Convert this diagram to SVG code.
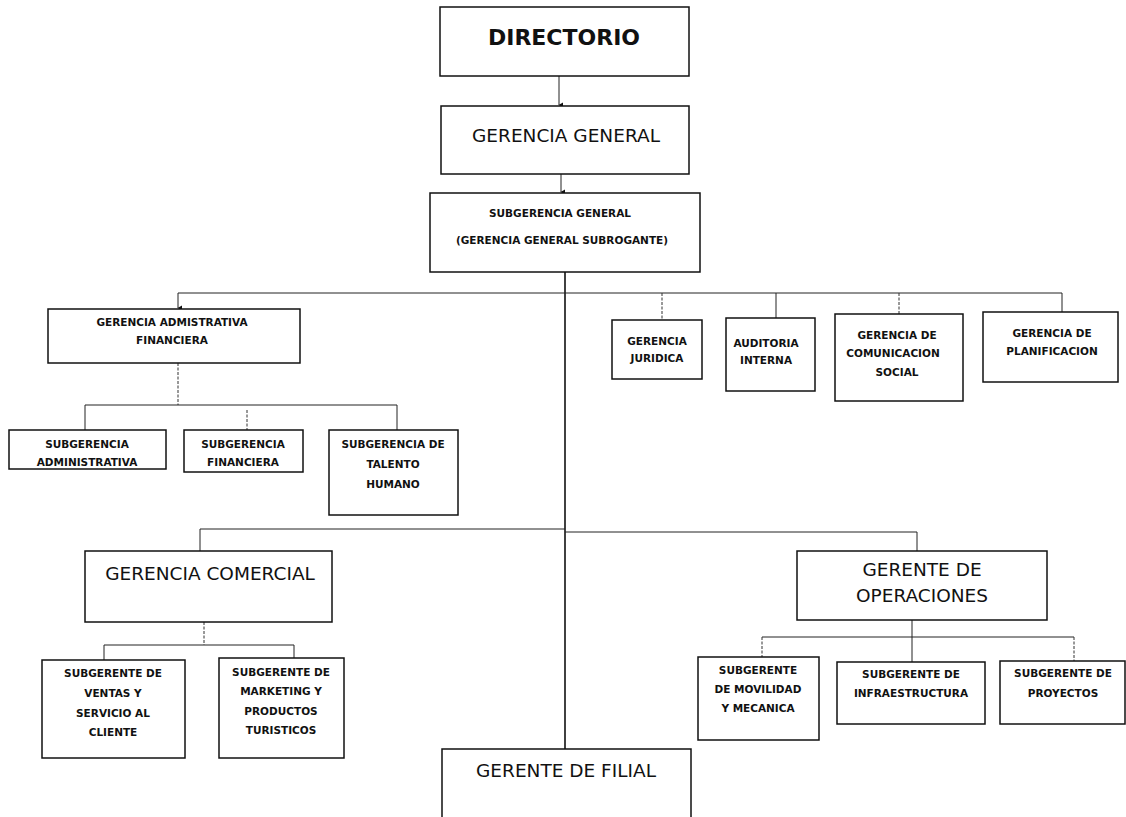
<svg xmlns="http://www.w3.org/2000/svg" width="1126" height="817" viewBox="0 0 1126 817">
<style>
.bg{fill:#fff}
.box{fill:#fff;stroke:#111;stroke-width:1.5}
.ln{fill:none;stroke:#222;stroke-width:1}
.lnd{fill:none;stroke:#333;stroke-width:1;stroke-dasharray:3 1.5}
.main{fill:none;stroke:#111;stroke-width:1.6}
.s{font-family:"DejaVu Sans",sans-serif;font-weight:bold;font-size:10.5px;text-anchor:middle;fill:#111}
.m{font-family:"DejaVu Sans",sans-serif;font-size:18.5px;text-anchor:middle;fill:#111}
.b{font-family:"DejaVu Sans",sans-serif;font-weight:bold;font-size:22px;text-anchor:middle;fill:#111}
</style>
<defs>
<marker id="ar" markerWidth="6" markerHeight="6" refX="3" refY="5" orient="auto-start-reverse" markerUnits="userSpaceOnUse">
<path d="M0.5,1 L3,5.5 L5.5,1 Z" fill="#111"/>
</marker>
</defs>
<rect class="bg" x="0" y="0" width="1126" height="817"/>

<g id="connectors">
<line class="ln" x1="559" y1="76" x2="559" y2="105" marker-end="url(#ar)"/>
<line class="ln" x1="561" y1="174" x2="561" y2="192" marker-end="url(#ar)"/>
<line class="main" x1="565" y1="272" x2="565" y2="749"/>
<line class="ln" x1="178" y1="293" x2="1062" y2="293"/>
<line class="ln" x1="178" y1="293" x2="178" y2="308" marker-end="url(#ar)"/>
<line class="lnd" x1="178" y1="363" x2="178" y2="405"/>
<line class="ln" x1="85" y1="405" x2="397" y2="405"/>
<line class="ln" x1="85" y1="405" x2="85" y2="430"/>
<line class="lnd" x1="247" y1="410" x2="247" y2="430"/>
<line class="ln" x1="397" y1="405" x2="397" y2="430"/>
<line class="lnd" x1="662" y1="293" x2="662" y2="320"/>
<line class="ln" x1="776" y1="293" x2="776" y2="318"/>
<line class="lnd" x1="899" y1="293" x2="899" y2="314"/>
<line class="ln" x1="1062" y1="293" x2="1062" y2="312"/>
<line class="ln" x1="200" y1="529" x2="565" y2="529"/>
<line class="ln" x1="200" y1="529" x2="200" y2="551"/>
<line class="lnd" x1="204" y1="622" x2="204" y2="645"/>
<line class="ln" x1="104" y1="645" x2="294" y2="645"/>
<line class="ln" x1="104" y1="645" x2="104" y2="660"/>
<line class="ln" x1="294" y1="645" x2="294" y2="658"/>
<line class="ln" x1="565" y1="532" x2="917" y2="532"/>
<line class="ln" x1="917" y1="532" x2="917" y2="551"/>
<line class="ln" x1="912" y1="620" x2="912" y2="662"/>
<line class="ln" x1="762" y1="637" x2="1074" y2="637"/>
<line class="lnd" x1="762" y1="637" x2="762" y2="657"/>
<line class="lnd" x1="1074" y1="637" x2="1074" y2="661"/>
</g>

<g id="directorio">
<rect class="box" x="440" y="7" width="249" height="69"/>
<text class="b" x="564" y="45">DIRECTORIO</text>
</g>
<g id="gerencia-general">
<rect class="box" x="441" y="106" width="248" height="68"/>
<text class="m" x="566" y="142" font-size="20">GERENCIA GENERAL</text>
</g>
<g id="subgerencia-general">
<rect class="box" x="430" y="193" width="270" height="79"/>
<text class="s" x="560" y="217">SUBGERENCIA GENERAL</text>
<text class="s" x="562" y="244" font-size="11.5">(GERENCIA GENERAL SUBROGANTE)</text>
</g>
<g id="gerencia-adm-fin">
<rect class="box" x="48" y="309" width="252" height="54"/>
<text class="s" x="172" y="326">GERENCIA ADMISTRATIVA</text>
<text class="s" x="172" y="344">FINANCIERA</text>
</g>
<g id="sub-administrativa">
<rect class="box" x="9" y="430" width="157" height="39"/>
<text class="s" x="87" y="448">SUBGERENCIA</text>
<text class="s" x="87" y="466">ADMINISTRATIVA</text>
</g>
<g id="sub-financiera">
<rect class="box" x="184" y="430" width="119" height="42"/>
<text class="s" x="243" y="448">SUBGERENCIA</text>
<text class="s" x="243" y="466">FINANCIERA</text>
</g>
<g id="sub-talento">
<rect class="box" x="329" y="430" width="129" height="85"/>
<text class="s" x="393" y="448">SUBGERENCIA DE</text>
<text class="s" x="393" y="468">TALENTO</text>
<text class="s" x="393" y="488">HUMANO</text>
</g>
<g id="gerencia-juridica">
<rect class="box" x="612" y="320" width="90" height="59"/>
<text class="s" x="657" y="345">GERENCIA</text>
<text class="s" x="657" y="362">JURIDICA</text>
</g>
<g id="auditoria-interna">
<rect class="box" x="726" y="318" width="89" height="73"/>
<text class="s" x="766" y="347">AUDITORIA</text>
<text class="s" x="766" y="364">INTERNA</text>
</g>
<g id="gerencia-comunicacion">
<rect class="box" x="835" y="314" width="128" height="87"/>
<text class="s" x="897" y="339">GERENCIA DE</text>
<text class="s" x="893" y="357">COMUNICACION</text>
<text class="s" x="897" y="376">SOCIAL</text>
</g>
<g id="gerencia-planificacion">
<rect class="box" x="983" y="312" width="135" height="70"/>
<text class="s" x="1052" y="337">GERENCIA DE</text>
<text class="s" x="1052" y="355">PLANIFICACION</text>
</g>
<g id="gerencia-comercial">
<rect class="box" x="85" y="551" width="247" height="71"/>
<text class="m" x="210" y="580">GERENCIA COMERCIAL</text>
</g>
<g id="sub-ventas">
<rect class="box" x="42" y="660" width="143" height="98"/>
<text class="s" x="113" y="677">SUBGERENTE DE</text>
<text class="s" x="113" y="697">VENTAS Y</text>
<text class="s" x="113" y="717">SERVICIO AL</text>
<text class="s" x="113" y="736">CLIENTE</text>
</g>
<g id="sub-marketing">
<rect class="box" x="219" y="658" width="125" height="100"/>
<text class="s" x="281" y="676">SUBGERENTE DE</text>
<text class="s" x="281" y="695">MARKETING Y</text>
<text class="s" x="281" y="715">PRODUCTOS</text>
<text class="s" x="281" y="734">TURISTICOS</text>
</g>
<g id="gerente-operaciones">
<rect class="box" x="797" y="551" width="250" height="69"/>
<text class="m" x="922" y="576">GERENTE DE</text>
<text class="m" x="922" y="602">OPERACIONES</text>
</g>
<g id="sub-movilidad">
<rect class="box" x="698" y="657" width="121" height="83"/>
<text class="s" x="758" y="674">SUBGERENTE</text>
<text class="s" x="758" y="693">DE MOVILIDAD</text>
<text class="s" x="758" y="712">Y MECANICA</text>
</g>
<g id="sub-infraestructura">
<rect class="box" x="837" y="662" width="148" height="62"/>
<text class="s" x="911" y="678">SUBGERENTE DE</text>
<text class="s" x="911" y="697">INFRAESTRUCTURA</text>
</g>
<g id="sub-proyectos">
<rect class="box" x="1000" y="661" width="125" height="63"/>
<text class="s" x="1063" y="677">SUBGERENTE DE</text>
<text class="s" x="1063" y="697">PROYECTOS</text>
</g>
<g id="gerente-filial">
<rect class="box" x="442" y="749" width="249" height="80"/>
<text class="m" x="566" y="777">GERENTE DE FILIAL</text>
</g>
</svg>
